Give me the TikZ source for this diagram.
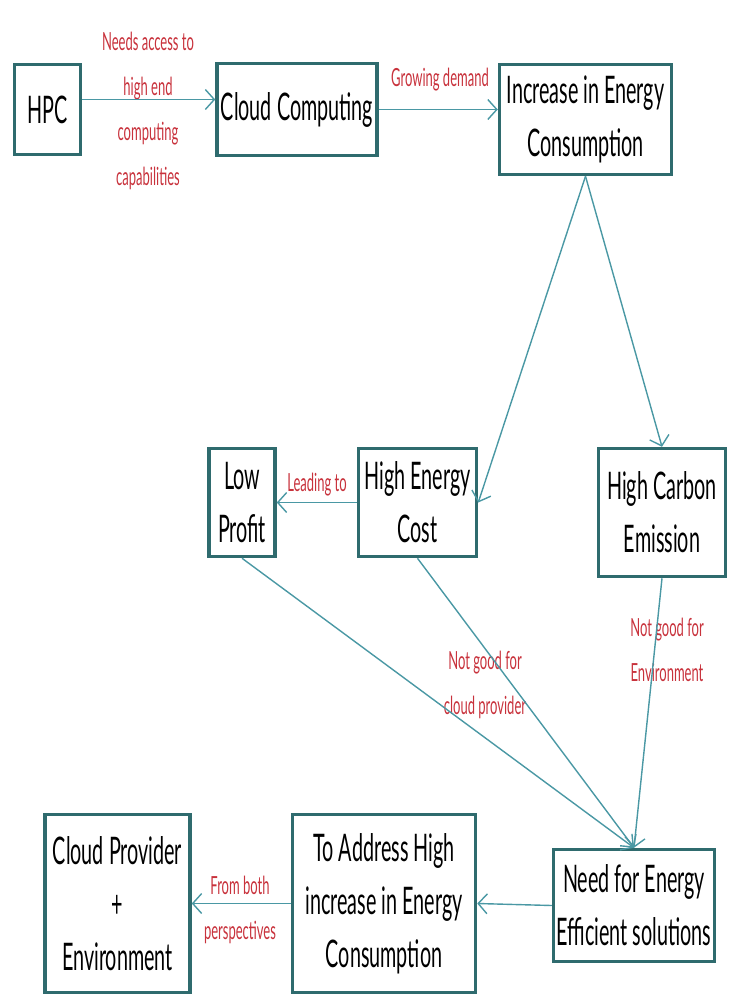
\documentclass[tikz,border=0pt]{standalone}
\usepackage{fontspec}
\setmainfont{Lato}[FakeStretch=0.52]
\usetikzlibrary{arrows.meta,positioning}
\definecolor{marco}{HTML}{2F6B6E}
\definecolor{linea}{HTML}{4A98A4}
\definecolor{rojo}{HTML}{C8323C}

\begin{document}
\begin{tikzpicture}[x=1pt, y=-1pt,
        bloque/.style={draw=marco, line width=3.5pt, fill=white, align=center, inner sep=0pt, font=\fontsize{38}{53}\selectfont},
        nota/.style={text=rojo, align=center, inner sep=1pt, font=\fontsize{25}{45}\selectfont},
        flecha/.style={draw=linea, line width=1.4pt, -{Straight Barb[length=9pt,width=20pt]}}
    ]
        \useasboundingbox (0,0) rectangle (729,996);

        % fila superior
        \node[bloque, minimum width=66, minimum height=90] (hpc) at (47.5,109.5) {HPC};
        \node[bloque, right=133pt of hpc, minimum width=160, minimum height=92] (cloud) {Cloud Computing};
        \node[bloque, minimum width=172, minimum height=110] (incr) at (585.5,119.5) {Increase in Energy\\Consumption};

        % fila central
        \node[bloque, minimum width=118, minimum height=108] (cost) at (417.5,502.5) {High Energy\\Cost};
        \node[bloque, left=80pt of cost, minimum width=66, minimum height=108] (profit) {Low\\Profit};
        \node[bloque, minimum width=127, minimum height=128] (carbon) at (662,512.5) {High Carbon\\Emission};

        % fila inferior
        \node[bloque, minimum width=161, minimum height=112] (need) at (634,905.5) {Need for Energy\\Efficient solutions};
        \node[bloque, minimum width=183, minimum height=178] (address) at (384,903.5) {To Address High\\increase in Energy\\Consumption};
        \node[bloque, left=99pt of address, minimum width=145, minimum height=178] (both) {Cloud Provider\\+\\Environment};

        % etiquetas
        \node[nota] (needs) at (148,111) {Needs access to\\high end\\computing\\capabilities};
        \node[nota] (grow) at (440,80) {Growing demand};
        \node[nota] (lead) at (317,485) {Leading to};
        \node[nota] (prov) at (485,685) {Not good for\\cloud provider};
        \node[nota] (env) at (667,650) {Not good for\\Environment};
        \node[nota] (persp) at (240,910) {From both\\perspectives};

        % flechas
        \draw[flecha] ([yshift=10pt]hpc.east) -- ([yshift=10pt]cloud.west);
        \draw[flecha] (cloud.east) -- (incr.west |- cloud.east);
        \draw[flecha] (incr.south) -- (cost.east);
        \draw[flecha] (incr.south) -- (carbon.north);
        \draw[flecha] (cost.west) -- (profit.east);
        \draw[flecha] (profit.south) -- (need.north);
        \draw[flecha] (cost.south) -- (need.north);
        \draw[flecha] (carbon.south) -- (need.north);
        \draw[flecha] (need.west) -- (address.east);
        \draw[flecha] (address.west) -- (both.east);

    \end{tikzpicture}
\end{document}
